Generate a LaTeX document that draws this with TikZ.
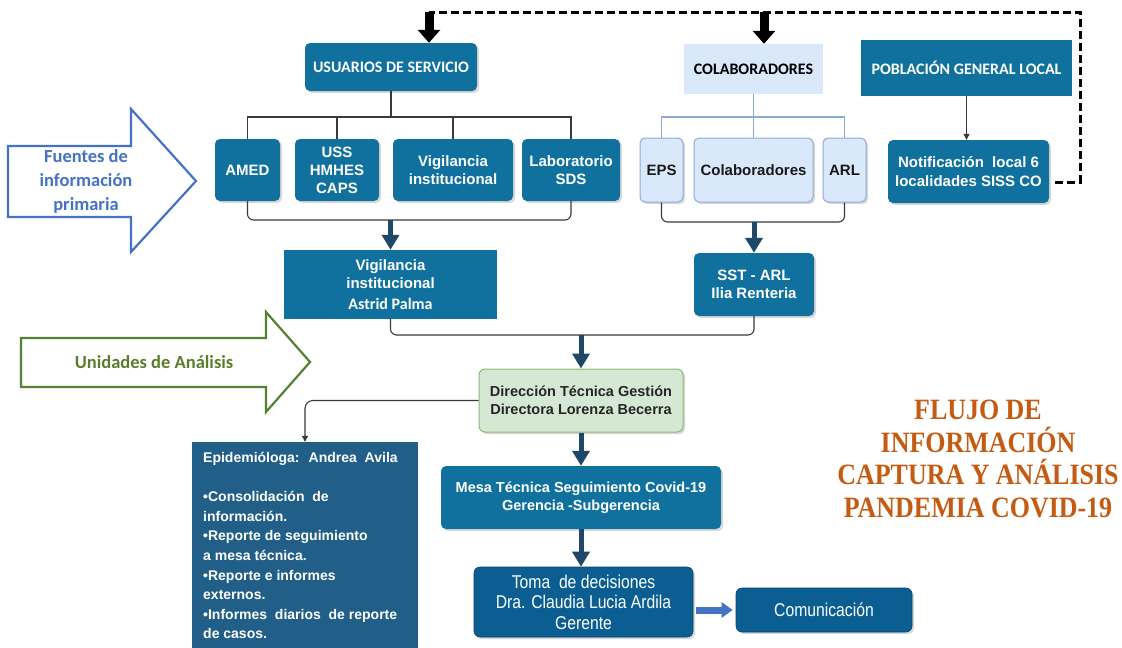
\documentclass[tikz,border=0pt]{standalone}
\usepackage{fontspec}
\usepackage{graphicx}
\setmainfont{Liberation Sans}
\newfontfamily\calib{Carlito}
\newfontfamily\narrowf[FakeStretch=0.85]{Liberation Sans}
\newfontfamily\timesf{Liberation Serif}
\usetikzlibrary{arrows.meta,shadows,calc}
\definecolor{teal1}{HTML}{10719E}
\definecolor{epic}{HTML}{225F88}
\definecolor{tomac}{HTML}{0B5E92}
\definecolor{lbf}{HTML}{DAE8FC}
\definecolor{lbd}{HTML}{8CAAD8}
\definecolor{grf}{HTML}{D5E8D4}
\definecolor{grd}{HTML}{8DBB73}
\definecolor{navy}{HTML}{1F4868}
\definecolor{fuentec}{HTML}{4472C4}
\definecolor{unic}{HTML}{548235}
\definecolor{unitext}{HTML}{5A7E2C}
\definecolor{titlec}{HTML}{C55A11}
\definecolor{brkc}{HTML}{3A3A3A}
\tikzset{
  shad/.style={drop shadow={shadow xshift=2pt,shadow yshift=-2pt,opacity=0.3}},
  tealbox/.style={fill=teal1, rounded corners=5pt, inner sep=0pt, align=center, text=white,
    font=\bfseries\fontsize{15}{18}\selectfont, shad},
  sqbox/.style={fill=teal1, inner sep=0pt, align=center, text=white,
    font=\bfseries\fontsize{15}{18}\selectfont},
  lbbox/.style={fill=lbf, draw=lbd, line width=1pt, rounded corners=5pt, inner sep=0pt,
    align=center, text=black!90, font=\bfseries\fontsize{15}{18}\selectfont, shad},
  grbox/.style={fill=grf, draw=grd, line width=1pt, rounded corners=6pt, inner sep=0pt,
    align=center, text=black!85, font=\bfseries\fontsize{14.5}{18}\selectfont, shad},
  darkbox/.style={fill=tomac, draw=tomac!70!black, line width=0.6pt, rounded corners=6pt, inner sep=0pt,
    align=center, text=white, font=\narrowf\fontsize{18.5}{20.5}\selectfont, shad},
  brk/.style={draw=brkc, line width=1.1pt, rounded corners=6pt},
  lbline/.style={draw=lbd, line width=1.2pt},
  navyarrow/.style={draw=navy, line width=5pt, -{Triangle[length=15pt,width=17pt]}},
  blkarrow/.style={draw=black, line width=9pt, -{Triangle[length=13pt,width=22pt]}},
  thinarrow/.style={draw=brkc, line width=1.1pt, -{Triangle[length=6pt,width=6pt]}},
  dashline/.style={draw=black, line width=3pt, dash pattern=on 8pt off 4pt},
  bigarrow/.style={line width=2.2pt, line join=miter, fill=white},
}
\begin{document}
\begin{tikzpicture}[x=1pt,y=-1pt]
\useasboundingbox (0,0) rectangle (1122,648);
\fill[white] (0,0) rectangle (1122,648);

% big outline arrows
\draw[bigarrow, draw=fuentec] (8,146) -- (131,146) -- (131,109) -- (196,181) -- (131,252) -- (131,217) -- (8,217) -- cycle;
\node[text=fuentec, align=center, font=\calib\bfseries\fontsize{18.5}{24}\selectfont] (fuentes) at (86,181) {Fuentes de\\información\\primaria};
\draw[bigarrow, draw=unic] (21,338) -- (266,338) -- (266,312) -- (310,362) -- (266,412) -- (266,387) -- (21,387) -- cycle;
\node[text=unitext, font=\calib\bfseries\fontsize{18.5}{22}\selectfont] (unidades) at (154,362) {Unidades de Análisis};

% top row
\node[tealbox, minimum width=172pt, minimum height=48pt, font=\calib\bfseries\fontsize{16}{18}\selectfont] (usu) at (391,67) {USUARIOS DE SERVICIO};
\node[fill=lbf, inner sep=0pt, minimum width=139pt, minimum height=50pt, text=black, font=\calib\bfseries\fontsize{16}{18}\selectfont] (colab) at (753.5,69) {COLABORADORES};
\node[sqbox, minimum width=211pt, minimum height=56pt, font=\calib\bfseries\fontsize{16}{18}\selectfont] (pob) at (966.5,68) {POBLACIÓN GENERAL LOCAL};

% second row
\node[tealbox, minimum width=65pt, minimum height=62pt] (amed) at (247.5,170) {AMED};
\node[tealbox, minimum width=84pt, minimum height=62pt] (uss) at (337,170) {USS\\HMHES\\CAPS};
\node[tealbox, minimum width=120pt, minimum height=62pt] (vigi) at (453,170) {Vigilancia\\institucional};
\node[tealbox, minimum width=98pt, minimum height=62pt] (lab) at (571,170) {Laboratorio\\SDS};
\node[lbbox, minimum width=43pt, minimum height=64pt] (eps) at (661.5,170) {EPS};
\node[lbbox, minimum width=119pt, minimum height=64pt] (colb) at (753.5,170) {Colaboradores};
\node[lbbox, minimum width=43pt, minimum height=64pt] (arl) at (844.5,170) {ARL};
\node[tealbox, minimum width=161pt, minimum height=63pt, font=\bfseries\fontsize{15}{19}\selectfont] (notif) at (968.5,171.5) {Notificación~ local 6\\localidades SISS CO};

% third row
\node[sqbox, minimum width=213pt, minimum height=69pt] (vig2) at (390.5,284.5) {Vigilancia\\institucional\\[3pt]{\calib\fontsize{16}{18}\selectfont Astrid Palma}};
\node[tealbox, minimum width=120pt, minimum height=63pt, font=\bfseries\fontsize{15}{17.5}\selectfont] (sst) at (754,284.5) {SST - ARL\\Ilia Renteria};

% central column
\node[grbox, minimum width=204pt, minimum height=63pt] (dir) at (581,400.5) {Dirección Técnica Gestión\\Directora Lorenza Becerra};
\node[tealbox, minimum width=280pt, minimum height=63pt, font=\bfseries\fontsize{14.5}{18}\selectfont] (mesa) at (581,497.5) {Mesa Técnica Seguimiento Covid-19\\Gerencia -Subgerencia};
\node[darkbox, minimum width=219pt, minimum height=70pt] (toma) at (583.5,602) {Toma~ de decisiones\\Dra. Claudia Lucia Ardila\\Gerente};
\node[darkbox, minimum width=176pt, minimum height=44pt] (com) at (824,610) {Comunicación};

% epidemiologa
\node[fill=epic, inner sep=0pt, minimum width=226pt, minimum height=206pt] (epi) at (305,545) {};
\node[anchor=north west, inner sep=0pt, align=left, text=white,
      font=\bfseries\fontsize{14}{19.6}\selectfont] (epitext) at (203,452)
 {Epidemióloga:~ Andrea~ Avila\\[19.6pt]
  •Consolidación~ de\\
  información.\\
  •Reporte de seguimiento\\
  a mesa técnica.\\
  •Reporte e informes\\
  externos.\\
  •Informes~ diarios~ de reporte\\
  de casos.};

% title
\node[text=titlec, align=center, font=\timesf\bfseries\fontsize{29.5}{32.5}\selectfont] (title) at (978,459)
 {\scalebox{0.88}[1]{FLUJO DE}\\\scalebox{0.88}[1]{INFORMACIÓN}\\\scalebox{0.88}[1]{CAPTURA Y ANÁLISIS}\\\scalebox{0.88}[1]{PANDEMIA COVID-19}};

% bus coordinates
\coordinate (busU) at (0,117);
\coordinate (busB) at (0,220);
\coordinate (busD) at (0,222);
\coordinate (busE) at (0,335);

% usuarios tree
\draw[brk] (usu.south) -- (usu.south |- busU);
\draw[brk, rounded corners=0pt] (amed.north) -- (amed.north |- busU) -- (lab.north |- busU) -- (lab.north);
\draw[brk] (uss.north) -- (uss.north |- busU);
\draw[brk] (vigi.north) -- (vigi.north |- busU);
\draw[brk] (amed.south) -- (amed.south |- busB) -- (lab.south |- busB) -- (lab.south);
\draw[navyarrow] (vig2.north |- busB) -- (vig2.north);

% colaboradores tree
\draw[lbline] (colab.south) -- (colb.north);
\draw[lbline] (eps.north) -- (eps.north |- busU) -- (arl.north |- busU) -- (arl.north);
\draw[brk] (eps.south) -- (eps.south |- busD) -- (arl.south |- busD) -- (arl.south);
\draw[navyarrow] (sst.north |- busD) -- (sst.north);

% poblacion
\draw[thinarrow] (pob.south) -- (pob.south |- notif.north);

% merge into direccion
\draw[brk] (vig2.south) -- (vig2.south |- busE) -- (sst.south |- busE) -- (sst.south);
\draw[navyarrow] (dir.north |- busE) -- (dir.north);
\draw[navyarrow] (dir.south) -- (mesa.north);
\draw[navyarrow] (mesa.south) -- (mesa.south |- toma.north);
\draw[thinarrow, rounded corners=8pt] (dir.west) -- (epi.north |- dir.west) -- (epi.north);

% toma -> comunicacion
\draw[draw=fuentec, line width=7pt, -{Triangle[length=11pt,width=15pt]}, shorten <=3pt, shorten >=3pt] (toma.east |- com.west) -- (com.west);

% dashed feedback
\coordinate (dS) at (1055,182);
\coordinate (dC1) at (1080,182);
\coordinate (dC2) at (1080,12);
\coordinate (aU) at (429,12);
\coordinate (aC) at (764,12);
\draw[dashline] (dS) -- (dC1) -- (dC2) -- (aU);
\draw[blkarrow] (aU) -- (aU |- usu.north);
\draw[blkarrow] (aC) -- (aC |- colab.north);
\end{tikzpicture}
\end{document}
